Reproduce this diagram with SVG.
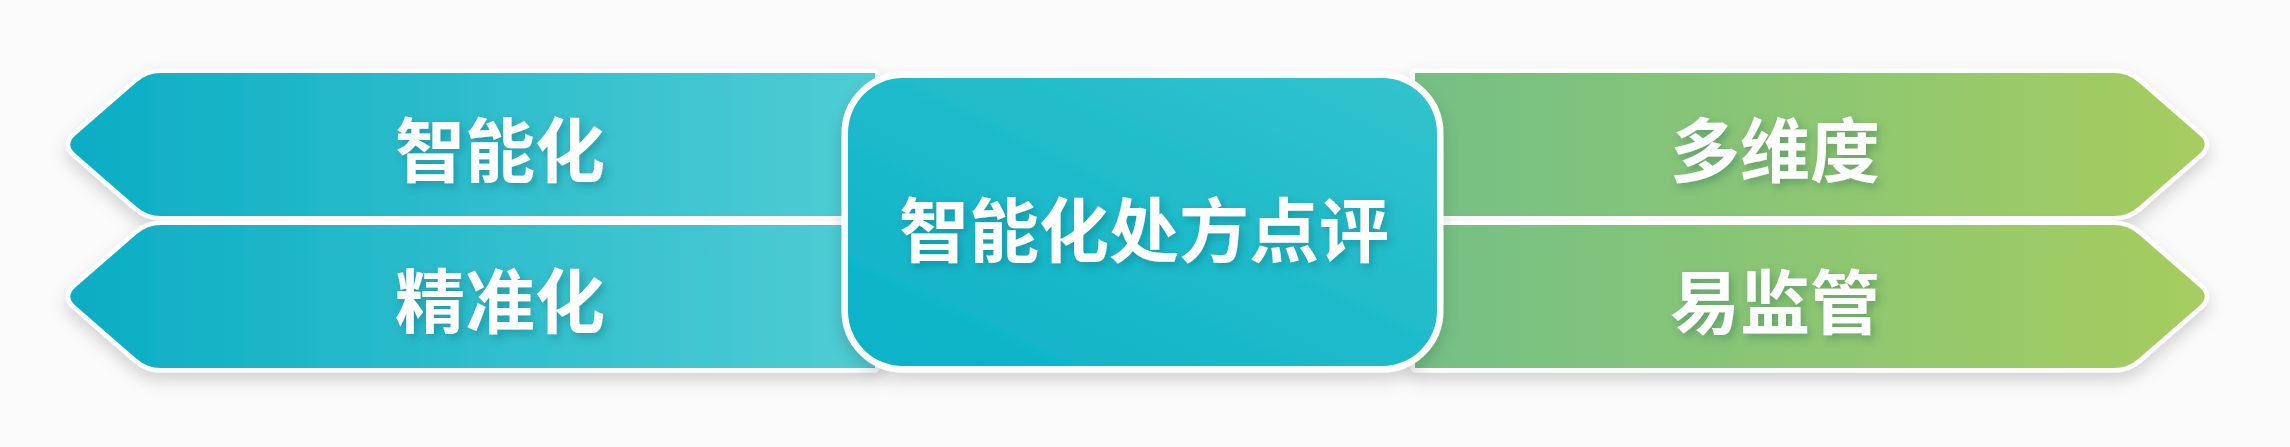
<svg xmlns="http://www.w3.org/2000/svg" width="2290" height="447" viewBox="0 0 2290 447">
  <defs>
    <linearGradient id="gTeal" gradientUnits="userSpaceOnUse" x1="65" y1="0" x2="875" y2="0">
      <stop offset="0" stop-color="#0AADC4"/>
      <stop offset="1" stop-color="#50CDD4"/>
    </linearGradient>
    <linearGradient id="gGreen" gradientUnits="userSpaceOnUse" x1="1415" y1="0" x2="2210" y2="0">
      <stop offset="0" stop-color="#74C086"/>
      <stop offset="1" stop-color="#A6CD5E"/>
    </linearGradient>
    <linearGradient id="gCenter" x1="1" y1="0" x2="0" y2="1">
      <stop offset="0" stop-color="#32C3CD"/>
      <stop offset="1" stop-color="#0AB2C8"/>
    </linearGradient>
    <filter id="shadow" x="-10%" y="-20%" width="120%" height="150%">
      <feDropShadow dx="0" dy="8" stdDeviation="8" flood-color="#000000" flood-opacity="0.16"/>
    </filter>
    <filter id="tshadow" x="-10%" y="-20%" width="120%" height="150%">
      <feDropShadow dx="3" dy="4" stdDeviation="4" flood-color="#004650" flood-opacity="0.3"/>
    </filter>
  </defs>
  <style>
    .shape { stroke: #FFFFFF; stroke-width: 9; paint-order: stroke fill; stroke-linejoin: round; }
    .teal { fill: url(#gTeal); }
    .green { fill: url(#gGreen); }
    .center { fill: url(#gCenter); stroke-width: 13; }
    .label { font-family: "Noto Sans CJK SC", "Noto Sans", sans-serif; font-size: 70px; font-weight: 700; fill: #FFFFFF; text-anchor: middle; dominant-baseline: central; }
  </style>
  <rect x="0" y="0" width="2290" height="447" fill="#FBFBFB"/>

  <g id="connectors"></g>

  <g id="node-left-top" filter="url(#shadow)">
    <path class="shape teal" d="M875,73 L161,73 Q147,73 136.45,82.2 L75.55,135.3 Q65,144.5 75.55,153.7 L136.45,206.8 Q147,216 161,216 L875,216 Z"/>
    <text class="label" x="500" y="146" filter="url(#tshadow)">智能化</text>
  </g>

  <g id="node-left-bottom" filter="url(#shadow)">
    <path class="shape teal" d="M875,225 L161,225 Q147,225 136.45,234.2 L75.55,287.3 Q65,296.5 75.55,305.7 L136.45,358.8 Q147,368 161,368 L875,368 Z"/>
    <text class="label" x="500" y="297" filter="url(#tshadow)">精准化</text>
  </g>

  <g id="node-right-top" filter="url(#shadow)">
    <path class="shape green" d="M1415,73 L2114,73 Q2128,73 2138.55,82.2 L2199.45,135.3 Q2210,144.5 2199.45,153.7 L2138.55,206.8 Q2128,216 2114,216 L1415,216 Z"/>
    <text class="label" x="1775" y="146" filter="url(#tshadow)">多维度</text>
  </g>

  <g id="node-right-bottom" filter="url(#shadow)">
    <path class="shape green" d="M1415,225 L2114,225 Q2128,225 2138.55,234.2 L2199.45,287.3 Q2210,296.5 2199.45,305.7 L2138.55,358.8 Q2128,368 2114,368 L1415,368 Z"/>
    <text class="label" x="1775" y="298" filter="url(#tshadow)">易监管</text>
  </g>

  <g id="node-center" filter="url(#shadow)">
    <rect class="shape center" x="848" y="78" width="589" height="288" rx="55" ry="55"/>
    <text class="label" x="1144" y="226" filter="url(#tshadow)">智能化处方点评</text>
  </g>
</svg>
